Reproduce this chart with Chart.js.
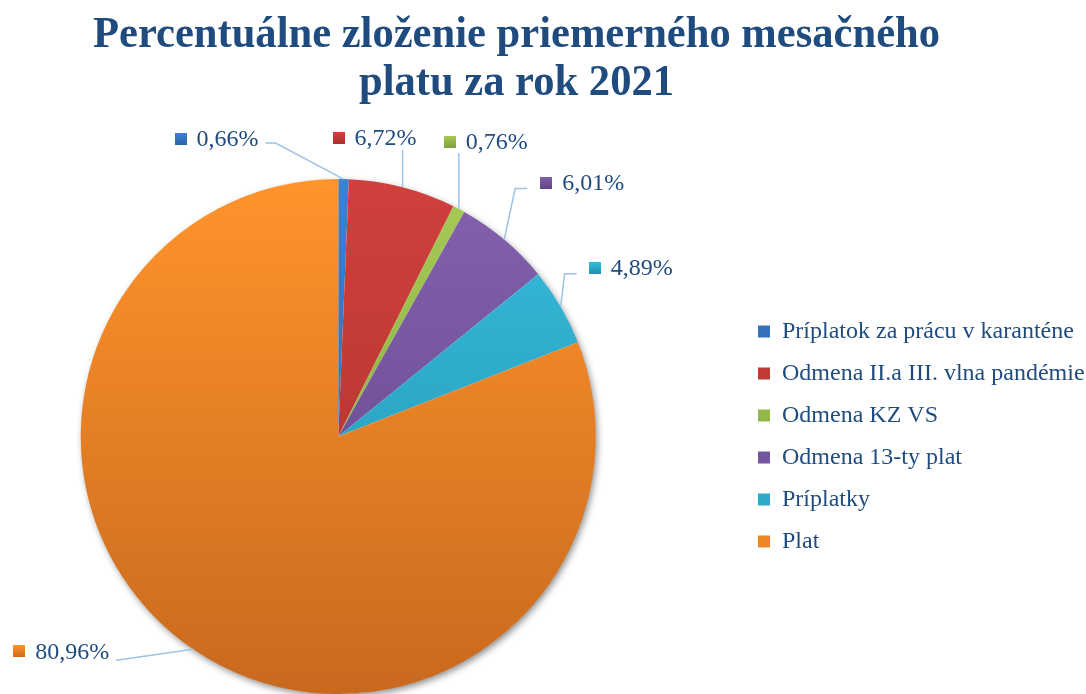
<!DOCTYPE html>
<html>
<head>
<meta charset="utf-8">
<script src="https://cdn.jsdelivr.net/npm/chart.js@4/dist/chart.umd.min.js"></script>
<style>
  html, body { margin: 0; padding: 0; background: #ffffff; }
  #wrap { width: 1086px; height: 694px; position: relative; }
</style>
</head>
<body>
<div id="wrap"><canvas id="c" width="1086" height="694"></canvas></div>
<script>
// ---- data ----
const titleLines = ['Percentuálne zloženie priemerného mesačného', 'platu za rok 2021'];
const categories = ['Príplatok za prácu v karanténe', 'Odmena II.a III. vlna pandémie', 'Odmena KZ VS', 'Odmena 13-ty plat', 'Príplatky', 'Plat'];
const values = [0.66, 6.72, 0.76, 6.01, 4.89, 80.96];

// ---- styles ----
const colorTop = ['#3F80D0', '#D0403C', '#A5CB55', '#8461AE', '#36BCDD', '#FF942C'];
const colorBottom = ['#2C62A8', '#A8302D', '#7FA03A', '#5F4585', '#2490AD', '#C9691E'];
const colorMid = ['#3671BC', '#C03A36', '#93B749', '#7456A0', '#2EA9CA', '#EE8526'];
const textColor = '#1F4B7F';
const leaderColor = '#9DC3E6';
const legendLeft = 740;
// label placement relative to each slice's outer mid-point
const labelLayout = [
  { center: [-127, -40], leader: [[-68, -36], [-78, -36]] },
  { center: [-28, -49], leader: [[0, -37]] },
  { center: [27, -67], leader: [[0, -56]] },
  { center: [78, -57], leader: [[11, -51], [23, -51]] },
  { center: [70, -39], leader: [[4, -33], [16, -33]] },
  { center: [-132, 2], leader: [[-77, 11]] }
];

const fmt = v => v.toFixed(2).replace('.', ',') + '%';

const titlePlugin = {
  id: 'condensedTitle',
  afterDraw(chart) {
    const ctx = chart.ctx;
    ctx.save();
    ctx.font = 'bold 44px "Liberation Serif", "Times New Roman", serif';
    ctx.fillStyle = textColor;
    ctx.textBaseline = 'alphabetic';
    ctx.textAlign = 'center';
    const w = ctx.measureText(titleLines[0]).width;
    const sx = 847 / w;
    const cx = 516.5;
    const baselines = [47, 95];
    titleLines.forEach((t, i) => {
      ctx.save();
      ctx.translate(cx, baselines[i]);
      ctx.scale(sx, 1);
      ctx.fillText(t, 0, 0);
      ctx.restore();
    });
    ctx.restore();
  }
};

const legendShift = {
  id: 'legendShift',
  afterLayout(chart) {
    const lg = chart.legend;
    if (!lg) return;
    const dx = legendLeft - lg.left;
    lg.left += dx;
    lg.right += dx;
  }
};

const shadowPlugin = {
  id: 'pieShadow',
  beforeDatasetsDraw(chart) {
    const arc = chart.getDatasetMeta(0).data[0];
    if (!arc) return;
    const ctx = chart.ctx;
    ctx.save();
    ctx.shadowColor = 'rgba(0,0,0,0.45)';
    ctx.shadowBlur = 7;
    ctx.shadowOffsetX = 2;
    ctx.shadowOffsetY = 3;
    ctx.fillStyle = '#ffffff';
    ctx.beginPath();
    ctx.arc(arc.x, arc.y, arc.outerRadius - 0.5, 0, Math.PI * 2);
    ctx.fill();
    ctx.restore();
  }
};

const labelPlugin = {
  id: 'pieLabels',
  afterDatasetsDraw(chart) {
    const ctx = chart.ctx;
    const meta = chart.getDatasetMeta(0);
    ctx.save();
    ctx.font = '24px "Liberation Serif", "Times New Roman", serif';
    ctx.textBaseline = 'middle';
    ctx.textAlign = 'left';
    meta.data.forEach((arc, i) => {
      const mid = (arc.startAngle + arc.endAngle) / 2;
      const ex = arc.x + arc.outerRadius * Math.cos(mid);
      const ey = arc.y + arc.outerRadius * Math.sin(mid);
      const lay = labelLayout[i];
      // leader line
      ctx.strokeStyle = leaderColor;
      ctx.lineWidth = 1.5;
      ctx.beginPath();
      ctx.moveTo(ex, ey);
      lay.leader.forEach(p => ctx.lineTo(ex + p[0], ey + p[1]));
      ctx.stroke();
      // label
      const text = fmt(values[i]);
      const tw = ctx.measureText(text).width;
      const bw = 12 + 10 + tw;
      const cx = ex + lay.center[0];
      const cy = ey + lay.center[1];
      const left = cx - bw / 2;
      const g = ctx.createLinearGradient(0, cy - 6, 0, cy + 6);
      g.addColorStop(0, colorTop[i]);
      g.addColorStop(1, colorBottom[i]);
      ctx.fillStyle = g;
      ctx.fillRect(Math.round(left), Math.round(cy - 6), 12, 12);
      ctx.fillStyle = textColor;
      ctx.fillText(text, left + 22, cy + 1);
    });
    ctx.restore();
  }
};

function sliceColor(context) {
  const i = context.dataIndex;
  const chart = context.chart;
  const area = chart.chartArea;
  if (!area) return colorMid[i];
  const g = chart.ctx.createLinearGradient(0, area.top, 0, area.bottom);
  g.addColorStop(0, colorTop[i]);
  g.addColorStop(1, colorBottom[i]);
  return g;
}

new Chart(document.getElementById('c'), {
  type: 'pie',
  data: {
    labels: categories,
    datasets: [{
      data: values,
      backgroundColor: sliceColor,
      borderWidth: 0,
      hoverOffset: 0
    }]
  },
  options: {
    responsive: false,
    animation: false,
    events: [],
    layout: { padding: { left: 80, right: 135, top: 179, bottom: 0 } },
    plugins: {
      title: { display: false },
      tooltip: { enabled: false },
      legend: {
        display: true,
        position: 'right',
        align: 'center',
        labels: {
          boxWidth: 12,
          boxHeight: 12,
          padding: 18,
          color: textColor,
          font: { family: '"Liberation Serif", "Times New Roman", serif', size: 24 },
          generateLabels(chart) {
            return chart.data.labels.map((l, i) => ({
              text: l,
              fillStyle: colorMid[i],
              strokeStyle: colorMid[i],
              lineWidth: 0,
              hidden: false,
              index: i,
              fontColor: textColor
            }));
          }
        }
      }
    }
  },
  plugins: [legendShift, shadowPlugin, labelPlugin, titlePlugin]
});
</script>
</body>
</html>
